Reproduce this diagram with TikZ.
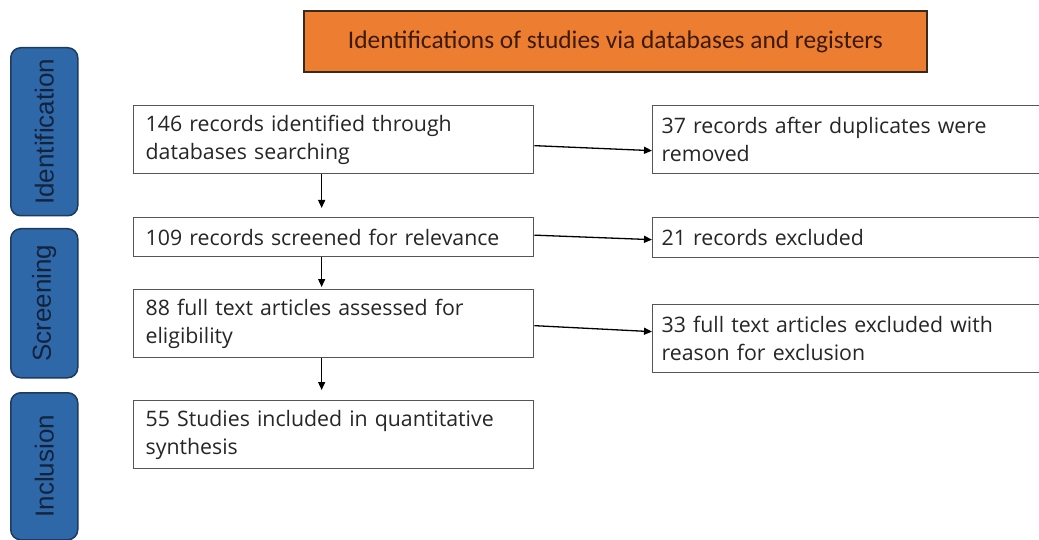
\documentclass[tikz,border=0pt]{standalone}
\usepackage{fontspec}
\setmainfont{Open Sans}
\newfontfamily\titlefont{Carlito}
\newfontfamily\barfont{Liberation Sans}
\usetikzlibrary{arrows.meta}
\definecolor{boxtext}{HTML}{262626}
\definecolor{boxline}{HTML}{555555}
\definecolor{orangefill}{HTML}{ED7D31}
\definecolor{orangeline}{HTML}{3A2A1C}
\definecolor{titletext}{HTML}{3B1A08}
\definecolor{barfill}{HTML}{2E68A8}
\definecolor{barline}{HTML}{1F3A5F}
\definecolor{bartext}{HTML}{14233C}
\tikzset{
  phase/.style={draw=barline, fill=barfill, line width=1.5pt, rounded corners=10pt,
    minimum width=67pt, inner sep=0pt, anchor=north west},
  phasetext/.style={text=bartext, font=\barfont\fontsize{26}{30}\selectfont, rotate=90},
  stepbox/.style={draw=boxline, line width=1.3pt, fill=white, text=boxtext,
    font=\fontsize{21.3}{28}\selectfont, align=left, inner ysep=0pt,
    anchor=north west},
  leftbox/.style={stepbox, inner xsep=12pt, text width=376pt},
  rightbox/.style={stepbox, inner xsep=9pt, text width=372pt},
  arr/.style={line width=1.3pt, draw=black, -{Triangle[length=8pt,width=7pt]}}
}
\begin{document}
\begin{tikzpicture}[x=1pt,y=-1pt]
\useasboundingbox (0,0) rectangle (1039,540);
\clip (0,0) rectangle (1039,540);

% phase bars
\node[phase, minimum height=168pt] (pid) at (10,47) {};
\node[phasetext] (tid) at (pid.center) {Identification};
\node[phase, minimum height=149pt] (psc) at (10,228) {};
\node[phasetext] (tsc) at (psc.center) {Screening};
\node[phase, minimum height=147pt] (pin) at (10,392) {};
\node[phasetext] (tin) at (pin.center) {Inclusion};

% title
\node[draw=orangeline, fill=orangefill, line width=1.8pt, minimum width=623pt,
  minimum height=61pt, anchor=north west, inner sep=0pt, text=titletext,
  font=\titlefont\fontsize{25.4}{30}\selectfont] (title) at (303,10)
  {Identifications of studies via databases and registers};

% left column
\node[leftbox, minimum height=68pt] (b1) at (133,105)
  {146 records identified through\\databases searching};
\node[leftbox, minimum height=39pt] (b3) at (133,217)
  {109 records screened for relevance};
\node[leftbox, minimum height=68pt] (b5) at (133,289)
  {88 full text articles assessed for\\eligibility};
\node[leftbox, minimum height=68pt] (b7) at (133,400)
  {55 Studies included in quantitative\\synthesis};

% right column
\node[rightbox, minimum height=68pt] (b2) at (652,105)
  {37 records after duplicates were\\removed};
\node[rightbox, minimum height=40pt] (b4) at (652,217)
  {21 records excluded};
\node[rightbox, minimum height=68pt] (b6) at (652,304)
  {33 full text articles excluded with\\reason for exclusion};

% vertical arrows
\draw[arr, shorten >=9pt] ([xshift=-12pt]b1.south) -- ([xshift=-12pt]b3.north);
\draw[arr, shorten >=2pt] ([xshift=-12pt]b3.south) -- ([xshift=-12pt]b5.north);
\draw[arr, shorten >=10pt] ([xshift=-12pt]b5.south) -- ([xshift=-12pt]b7.north);

% horizontal arrows
\draw[arr] ([yshift=-6pt]b1.east) -- ([yshift=-11pt]b2.west);
\draw[arr] ([yshift=2pt]b3.east) -- ([yshift=-2pt]b4.west);
\draw[arr] ([yshift=-2pt]b5.east) -- ([yshift=7pt]b6.west);
\end{tikzpicture}
\end{document}
